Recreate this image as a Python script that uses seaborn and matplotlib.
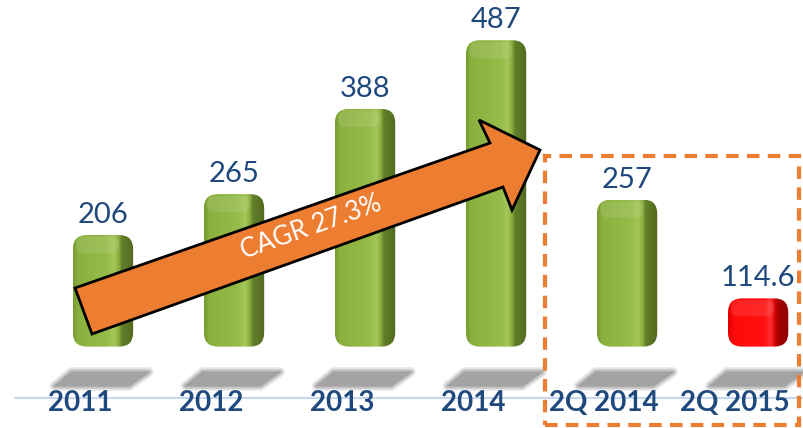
import numpy as np
import matplotlib
matplotlib.use("Agg")
import matplotlib.pyplot as plt
import seaborn as sns
from matplotlib.patches import FancyBboxPatch, Polygon, Rectangle
from matplotlib.colors import LinearSegmentedColormap
from matplotlib.lines import Line2D
from matplotlib.transforms import ScaledTranslation, blended_transform_factory

# data
categories = ["2011", "2012", "2013", "2014", "2Q 2014", "2Q 2015"]
values = [206, 265, 388, 487, 257, 114.6]
value_labels = ["206", "265", "388", "487", "257", "114.6"]
cagr_text = "CAGR 27.3%"

sns.set_style("white")
plt.rcParams["font.family"] = ["Lato", "DejaVu Sans"]

blue = "#1F497D"
orange = "#ED7D31"
greens = LinearSegmentedColormap.from_list(
    "g", [(0, "#759A30"), (0.08, "#8AB03E"), (0.55, "#95BB49"), (0.68, "#A3C758"),
          (0.76, "#86AA3C"), (0.80, "#63802A"), (1, "#52691F")])
reds = LinearSegmentedColormap.from_list(
    "r", [(0, "#E00000"), (0.1, "#FF0A0A"), (0.6, "#FF1010"), (0.7, "#FF3030"),
          (0.78, "#D00000"), (0.82, "#A80000"), (1, "#8E0000")])
bar_cmaps = [greens] * 5 + [reds]

W, H = 804, 428
fig = plt.figure(figsize=(W / 100, H / 100), dpi=100)
ax = fig.add_axes([37.5 / W, 80 / H, (W - 37.5) / W, 348 / H])

sns.barplot(x=categories, y=values, ax=ax, width=0.46, color="#8CB240")

XLIM = (-0.5, 5.35)
YLIM = (43, 545)
BASE = 45
px_x = (XLIM[1] - XLIM[0]) / (W - 37.5)  # data units per pixel
px_y = (YLIM[1] - YLIM[0]) / 348
aspect = px_y / px_x

grad = np.linspace(0, 1, 256).reshape(1, -1)
ax.bar_label(ax.containers[0], labels=value_labels, padding=5, fontsize=21, color=blue)

for p, cm in zip(list(ax.patches), bar_cmaps):
    x0, w, top = p.get_x(), p.get_width(), p.get_height()
    p.set_visible(False)
    shape = FancyBboxPatch((x0, BASE), w, top - BASE,
                           boxstyle=f"round,pad=0,rounding_size={14 * px_x}",
                           mutation_aspect=aspect, fc="none", ec="none")
    ax.add_patch(shape)
    im = ax.imshow(grad, cmap=cm, extent=(x0, x0 + w, BASE, top), aspect="auto", zorder=2)
    im.set_clip_path(shape)
    # lighter top face
    cap = FancyBboxPatch((x0 + 3 * px_x, top - 18 * px_y), w * 0.72, 16 * px_y,
                         boxstyle=f"round,pad=0,rounding_size={8 * px_x}",
                         mutation_aspect=aspect, fc="white", ec="none", alpha=0.1, zorder=3)
    ax.add_patch(cap)

ax.set_xlim(*XLIM)
ax.set_ylim(*YLIM)
ax.set_yticks([])
ax.set_xlabel("")
ax.set_ylabel("")
for s in ax.spines.values():
    s.set_visible(False)

ax.tick_params(axis="x", length=0, pad=30)
for lab in ax.get_xticklabels():
    lab.set_fontsize(20)
    lab.set_fontweight("bold")
    lab.set_color(blue)
    lab.set_transform(lab.get_transform() + ScaledTranslation(-0.23, 0, fig.dpi_scale_trans))

# soft shadows under the bars
shadow_tr = blended_transform_factory(ax.transData, fig.transFigure)
for i in range(len(categories)):
    y_top, y_bot = 1 - 372 / H, 1 - 386 / H
    pts = [(i - 0.24, y_top), (i + 0.35, y_top), (i + 0.20, y_bot), (i - 0.37, y_bot)]
    for lw, a in [(7, 0.25), (4, 0.5), (1, 1.0)]:
        ax.add_patch(Polygon(pts, closed=True, fc="#A3A3A3", ec="#A3A3A3", lw=lw, alpha=a,
                             joinstyle="round", transform=shadow_tr, clip_on=False, zorder=1))


def fp(x, y):
    return (x / W, 1 - y / H)


# baseline
fig.add_artist(Line2D([15 / W, 1], [1 - 398 / H] * 2, color="#C6D7EE", lw=1.5, zorder=0))

# CAGR arrow
arrow_pts = [fp(75, 288), fp(490, 143), fp(479, 120), fp(540, 150),
             fp(512, 210), fp(503, 187), fp(92, 334)]
fig.add_artist(Polygon(arrow_pts, closed=True, fc=orange, ec="black", lw=2,
                       transform=fig.transFigure, zorder=5))
fig.text(*fp(311, 227), cagr_text, color="white", fontsize=18.5, rotation=19.5,
         ha="center", va="center", rotation_mode="anchor", zorder=6)

# dashed box around the quarterly bars
fig.add_artist(Rectangle(fp(545, 425), 254 / W, 269 / H, fill=False, ec=orange, lw=3,
                         linestyle=(0, (3, 2)), transform=fig.transFigure, zorder=4))

fig.savefig("out.png", dpi=100, facecolor="white")
